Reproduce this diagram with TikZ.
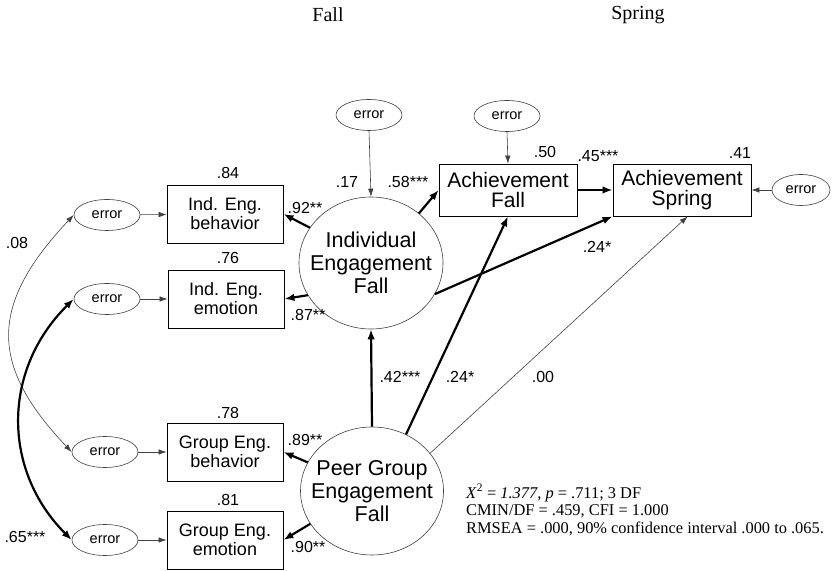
\documentclass[tikz,border=0pt]{standalone}
\usepackage{fontspec}
\setmainfont{Liberation Sans}
\newfontfamily\timesfont{Liberation Serif}
\usetikzlibrary{shapes.geometric,arrows.meta}
\tikzset{
  thinline/.style={draw=black!75,line width=0.6pt},
  thickline/.style={draw=black,line width=2.2pt},
  tip/.style={-{Latex[length=8pt,width=5.5pt]}},
  bigtip/.style={-{Latex[length=10pt,width=7.5pt]}},
  err/.style={ellipse,draw=black!75,line width=0.6pt,minimum width=66pt,
    minimum height=31pt,inner sep=0pt,font=\fontsize{14.5}{16}\selectfont},
  obs/.style={rectangle,draw,line width=0.8pt,minimum width=116pt,
    minimum height=58pt,inner sep=0pt,align=center,font=\fontsize{18}{19}\selectfont},
  ach/.style={rectangle,draw,line width=0.8pt,minimum width=138pt,
    minimum height=52pt,inner sep=0pt,align=center,font=\fontsize{21}{20}\selectfont},
  latent/.style={ellipse,draw=black!75,line width=0.6pt,inner sep=-12pt,
    align=center,font=\fontsize{21.5}{23}\selectfont},
  coef/.style={inner sep=0pt,font=\fontsize{16}{18}\selectfont},
  season/.style={inner sep=0pt,font=\timesfont\fontsize{20}{22}\selectfont}
}
\begin{document}
\begin{tikzpicture}[x=1pt,y=1pt]
      \useasboundingbox (0,0) rectangle (832,570);
      \node[season] (tfall) at (328,555) {Fall};
      \node[season] (tspring) at (638,555) {Spring};
      \node[latent,minimum width=144pt,minimum height=132pt] (ind) at (371,307)
        {Individual\\Engagement\\Fall};
      \node[latent,minimum width=143pt,minimum height=128pt] (peer) at (372,79)
        {Peer Group\\Engagement\\Fall};
      \node[ach] (achf) at (508,380) {Achievement\\Fall};
      \node[ach] (achs) at (682,380) {Achievement\\Spring};
      \node[obs] (ibeh) at (225,356) {Ind. Eng.\\behavior};
      \node[obs] (iemo) at (226,271) {Ind. Eng.\\emotion};
      \node[obs] (gbeh) at (225,118) {Group Eng.\\behavior};
      \node[obs] (gemo) at (225,30) {Group Eng.\\emotion};
      \foreach \n/\x/\y in {e1/107/355,e2/107/271,e3/105/118,e4/105/30,
                           ea/369/455,eb/507/454}
        \node[err] (\n) at (\x,\y) {error};
      \node[err,minimum width=58pt] (er) at (801,380) {error};
      \foreach \n/\x/\y/\lab in {l84/228/397/.84,l76/228/312/.76,l78/228/157/.78,
                                 l81/228/70/.81,l92/305/362/.92**,l87/308/255/.87**,
                                 l89/305/130/.89**,l90/308/23/.90**,l17/347/388/.17,
                                 l58/408/388/.58***,l50/545/418/.50,l45/598/414/.45***,
                                 l41/740/417/.41,l24a/597/323/.24*,l42/400/193/.42***,
                                 l24b/460/193/.24*,l00/543/193/.00,l08/17/327/.08,
                                 l65/25/33/.65***}
        \node[coef] (\n) at (\x,\y) {\lab};
      \foreach \e/\b in {e1/ibeh,e2/iemo,e3/gbeh,e4/gemo,er/achs}
        \draw[thinline,tip] (\e) -- (\b);
      \draw[thinline,tip] (ea.south) -- (ind.north);
      \draw[thinline,tip] (eb.south) -- (achf.north);
      \draw[thickline,bigtip] (ind.150) -- (ibeh.east);
      \draw[thickline,bigtip] (ind.207) -- (iemo.east);
      \draw[thickline,bigtip] (ind.46) -- (achf.west);
      \draw[thickline,bigtip] (ind.334) -- (achs.south west);
      \draw[thickline,bigtip] (achf) -- (achs);
      \draw[thickline,bigtip] (peer.north) -- (ind.south);
      \draw[thickline,bigtip] (peer.59) -- (achf.south);
      \draw[thinline,tip] (peer.33) -- (achs.-78);
      \draw[thickline,bigtip] (peer.156) -- (gbeh.east);
      \draw[thickline,bigtip] (peer.208) -- (gemo.east);
      \draw[thinline,{Latex[length=8pt,width=5.5pt]}-{Latex[length=8pt,width=5.5pt]}]
        (e1.west) .. controls (-11,265) and (-11,205) .. (e3.west);
      \draw[thickline,{Latex[length=10pt,width=7.5pt]}-{Latex[length=10pt,width=7.5pt]}]
        (e2.west) .. controls (2,200) and (2,100) .. (e4.west);
      \node[anchor=north west,align=left,inner sep=0pt,
        font=\timesfont\fontsize{16.4}{17.5}\selectfont] (fit) at (466,86)
        {\textit{X}\textsuperscript{2} = \textit{1.377, p} = .711; 3 DF\\
         CMIN/DF = .459, CFI = 1.000\\
         RMSEA = .000, 90\% confidence interval .000 to .065.};
\end{tikzpicture}
\end{document}
